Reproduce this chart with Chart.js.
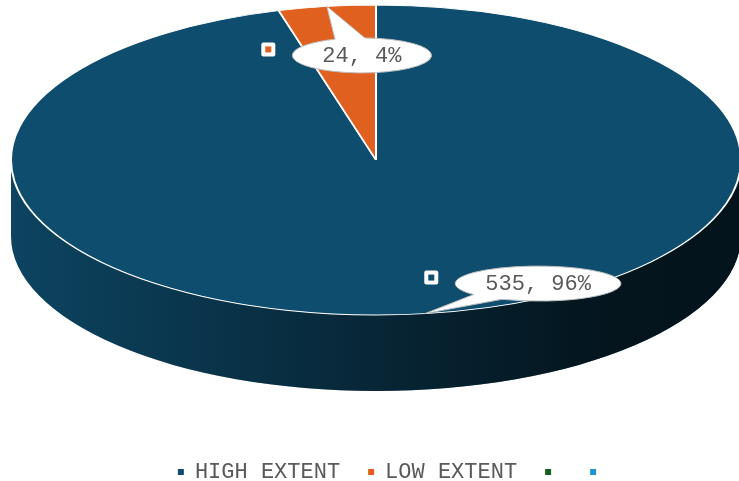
<!DOCTYPE html>
<html><head><meta charset="utf-8">
<script src="https://cdn.jsdelivr.net/npm/chart.js@4/dist/chart.umd.min.js"></script>
<style>html,body{margin:0;padding:0;background:#fff}#wrap{width:739px;height:481px}</style>
</head><body><div id="wrap"><canvas id="c" width="739" height="481"></canvas></div>
<script>
const categories = ['HIGH EXTENT', 'LOW EXTENT', '', ''];
const values = [535, 24, 0, 0];
const colors = ['#0E4D6E', '#E0601F', '#16601F', '#1F96D2'];

const FONT = "'Liberation Mono', 'DejaVu Sans Mono', monospace";
const TEXT = '#595959';
// 3D view of the pie
const VIEW = {cx: 376, cy: 160, rx: 365, ry: 155, depth: 76};
const LABEL_OFFSETS = [{dx: 113, dy: -30}, {dx: 35, dy: 49}, null, null];

function pt(a, dy) { return {x: VIEW.cx + VIEW.rx * Math.cos(a), y: VIEW.cy + (dy || 0) + VIEW.ry * Math.sin(a)}; }

const pie3d = {
  id: 'pie3d',
  beforeDatasetsDraw(chart) {
    const ctx = chart.ctx;
    const meta = chart.getDatasetMeta(0);
    const el0 = meta.data[0];
    const D = VIEW.depth;
    ctx.save();
    meta.data.forEach((el, i) => {
      const s = el.startAngle, e = el.endAngle;
      if (e - s <= 0) return;
      for (let k = -1; k <= 2; k++) {
        const lo = 2 * Math.PI * k, hi = Math.PI + 2 * Math.PI * k;
        const a = Math.max(s, lo), b = Math.min(e, hi);
        if (b > a) {
          const la = a - lo, lb = b - lo;
          ctx.beginPath();
          ctx.ellipse(VIEW.cx, VIEW.cy, VIEW.rx, VIEW.ry, 0, la, lb, false);
          const pb = pt(lb, D);
          ctx.lineTo(pb.x, pb.y);
          ctx.ellipse(VIEW.cx, VIEW.cy + D, VIEW.rx, VIEW.ry, 0, lb, la, true);
          ctx.closePath();
          ctx.fillStyle = colors[i];
          ctx.fill();
        }
      }
    });
    const g = ctx.createLinearGradient(VIEW.cx - VIEW.rx, 0, VIEW.cx + VIEW.rx, 0);
    g.addColorStop(0, 'rgba(0,0,0,0.12)');
    g.addColorStop(0.3, 'rgba(0,0,0,0.35)');
    g.addColorStop(0.55, 'rgba(0,0,0,0.55)');
    g.addColorStop(0.8, 'rgba(0,0,0,0.72)');
    g.addColorStop(1, 'rgba(0,0,0,0.75)');
    ctx.beginPath();
    ctx.ellipse(VIEW.cx, VIEW.cy, VIEW.rx, VIEW.ry, 0, 0, Math.PI, false);
    const p = pt(Math.PI, D);
    ctx.lineTo(p.x, p.y);
    ctx.ellipse(VIEW.cx, VIEW.cy + D, VIEW.rx, VIEW.ry, 0, Math.PI, 0, true);
    ctx.closePath();
    ctx.fillStyle = g;
    ctx.fill();
    ctx.restore();
    ctx.save();
    const r = el0.outerRadius;
    ctx.translate(VIEW.cx, VIEW.cy);
    ctx.scale(VIEW.rx / r, VIEW.ry / r);
    ctx.translate(-el0.x, -el0.y);
  },
  afterDatasetsDraw(chart) {
    const ctx = chart.ctx;
    ctx.restore();
    const meta = chart.getDatasetMeta(0);
    const total = values.reduce((a, b) => a + b, 0);
    ctx.save();
    ctx.font = '22px ' + FONT;
    meta.data.forEach((el, i) => {
      if (!values[i] || !LABEL_OFFSETS[i]) return;
      const mid = (el.startAngle + el.endAngle) / 2;
      const tip = pt(mid, 0);
      const cx = tip.x + LABEL_OFFSETS[i].dx, cy = tip.y + LABEL_OFFSETS[i].dy;
      const txt = values[i] + ', ' + Math.round(values[i] / total * 100) + '%';
      const tw = ctx.measureText(txt).width;
      const rx = tw / 2 + 30, ry = 17.5;
      const phi = Math.atan2((tip.y - cy) / ry, (tip.x - cx) / rx);
      const sp = 0.22;
      ctx.beginPath();
      ctx.ellipse(cx, cy, rx, ry, 0, phi + sp, phi - sp + 2 * Math.PI, false);
      ctx.lineTo(tip.x, tip.y);
      ctx.closePath();
      ctx.fillStyle = '#ffffff';
      ctx.fill();
      ctx.strokeStyle = '#bfbfbf';
      ctx.lineWidth = 1;
      ctx.stroke();
      ctx.fillStyle = TEXT;
      ctx.textAlign = 'center';
      ctx.textBaseline = 'middle';
      ctx.fillText(txt, cx, cy + 1);
      const kx = cx - rx - 24, ky = cy - 6;
      ctx.fillStyle = '#ffffff';
      ctx.beginPath();
      ctx.roundRect(kx - 7, ky - 7, 14, 14, 2);
      ctx.fill();
      ctx.fillStyle = colors[i];
      ctx.fillRect(kx - 3, ky - 3, 6, 6);
    });
    ctx.restore();
  }
};

new Chart(document.getElementById('c'), {
  type: 'pie',
  data: {
    labels: categories,
    datasets: [{
      data: values,
      backgroundColor: colors,
      borderColor: '#ffffff',
      borderWidth: [1.2, 1.2, 0, 0],
      clip: false
    }]
  },
  options: {
    responsive: false,
    animation: false,
    events: [],
    layout: {padding: {top: 0, bottom: -12, left: 46, right: 0}},
    plugins: {
      tooltip: {enabled: false},
      legend: {
        position: 'bottom',
        labels: {
          font: {family: FONT, size: 22},
          color: TEXT,
          boxWidth: 6,
          boxHeight: 6,
          padding: 28,
          generateLabels(chart) {
            const data = chart.data;
            const ds = data.datasets[0];
            return data.labels.map((label, i) => ({
              text: label,
              fillStyle: ds.backgroundColor[i],
              strokeStyle: ds.backgroundColor[i],
              fontColor: TEXT,
              lineWidth: 0,
              hidden: false,
              index: i
            }));
          }
        }
      }
    }
  },
  plugins: [pie3d]
});
</script>
</body></html>
